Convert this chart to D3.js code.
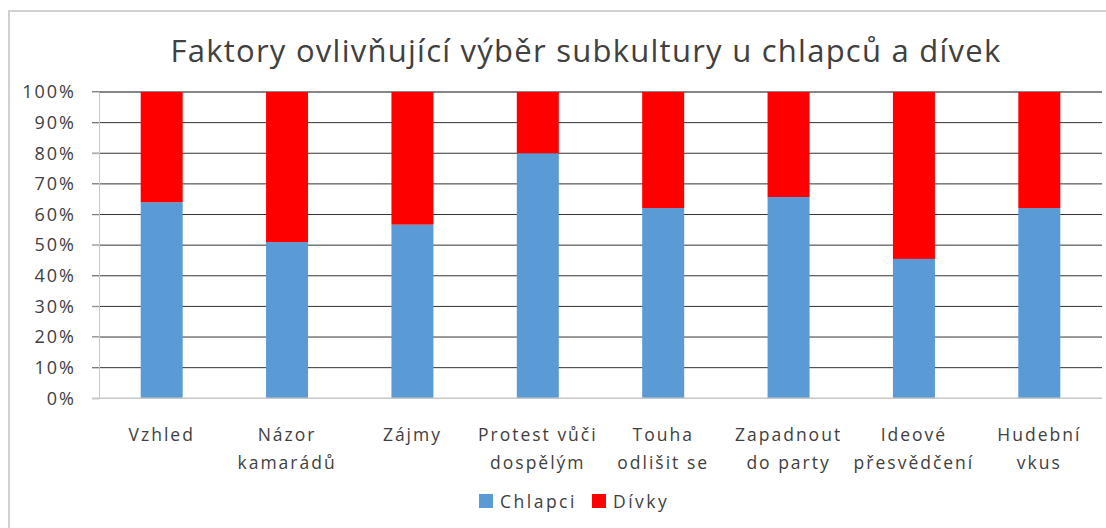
<!DOCTYPE html>
<html>
<head>
<meta charset="utf-8">
<script src="https://cdn.jsdelivr.net/npm/d3@7"></script>
<style>
  body { margin: 0; background: #fff; }
  svg { display: block; font-family: "Open Sans", sans-serif; }
</style>
</head>
<body>
<div class="chart"></div>
<script>
const TITLE = "Faktory ovlivňující výběr subkultury u chlapců a dívek"
const CATEGORIES = [
  ["Vzhled"],
  ["Názor", "kamarádů"],
  ["Zájmy"],
  ["Protest vůči", "dospělým"],
  ["Touha", "odlišit se"],
  ["Zapadnout", "do party"],
  ["Ideové", "přesvědčení"],
  ["Hudební", "vkus"]
]
const SERIES = ["Chlapci", "Dívky"]
const CHLAPCI = [64.0, 51.0, 56.7, 80.0, 62.1, 65.7, 45.5, 62.1]
const DIVKY = CHLAPCI.map(v => 100 - v)
const Y_TICKS = [0, 10, 20, 30, 40, 50, 60, 70, 80, 90, 100]
const COLORS = ["#5b9bd5", "#ff0000"]

const WIDTH = 1106, HEIGHT = 528;
const LEFT = 99, RIGHT = 1102, TOP = 92, BOTTOM = 398.3;

const svg = d3.select(".chart").append("svg").attr("width", WIDTH).attr("height", HEIGHT);

// chart border
svg.append("rect").attr("x", 9).attr("y", 11).attr("width", 1110).attr("height", 530)
  .attr("fill", "none").attr("stroke", "#d0d0d0").attr("stroke-width", 2);

// title
svg.append("text").attr("x", 586).attr("y", 62).attr("text-anchor", "middle")
  .attr("font-size", 31).attr("fill", "#404040").attr("letter-spacing", 1.25)
  .text(TITLE);

const names = CATEGORIES.map(c => c.join(" "));
const x = d3.scaleBand().domain(names).range([LEFT, RIGHT]).paddingInner(0.665).paddingOuter(0.3325);
const y = d3.scaleLinear().domain([0, 100]).range([BOTTOM, TOP]);

// gridlines
svg.append("g").selectAll("line").data(Y_TICKS.filter(t => t > 0)).enter().append("line")
  .attr("x1", LEFT - 7).attr("x2", RIGHT)
  .attr("y1", d => y(d)).attr("y2", d => y(d))
  .attr("stroke", d => d === 100 ? "#868686" : "#333")
  .attr("stroke-width", d => d === 100 ? 2 : 1);

// y axis
const yAxis = svg.append("g").attr("transform", `translate(${LEFT},0)`)
  .call(d3.axisLeft(y).tickValues(Y_TICKS).tickFormat(d => d + "%").tickSize(7).tickPadding(16));
yAxis.select(".domain").attr("stroke", "#c8c8c8");
yAxis.selectAll(".tick line").attr("stroke", "#c8c8c8");
yAxis.selectAll(".tick text").attr("font-size", 18).attr("fill", "#404040")
  .attr("font-family", "Open Sans, sans-serif").attr("letter-spacing", 2);

// stacked bars
const rows = names.map((n, i) => ({ name: n, Chlapci: CHLAPCI[i], "Dívky": DIVKY[i] }));
const stack = d3.stack().keys(SERIES)(rows);
svg.append("g").selectAll("g").data(stack).enter().append("g")
  .attr("fill", (d, i) => COLORS[i])
  .selectAll("rect").data(d => d).enter().append("rect")
  .attr("x", d => x(d.data.name))
  .attr("width", x.bandwidth())
  .attr("y", d => y(d[1]))
  .attr("height", d => y(d[0]) - y(d[1]));

// baseline
svg.append("line").attr("x1", LEFT - 7).attr("x2", RIGHT).attr("y1", BOTTOM).attr("y2", BOTTOM)
  .attr("stroke", "#c8c8c8").attr("stroke-width", 1.5);

// category labels
const cat = svg.append("g").selectAll("text").data(CATEGORIES).enter().append("text")
  .attr("text-anchor", "middle").attr("font-size", 17.5).attr("fill", "#404040").attr("letter-spacing", 2)
  .attr("transform", (d, i) => `translate(${x(names[i]) + x.bandwidth() / 2},441)`);
cat.selectAll("tspan").data(d => d).enter().append("tspan")
  .attr("x", 0).attr("dy", (d, i) => i === 0 ? 0 : 28).text(d => d);

// legend
const legend = svg.append("g").attr("transform", "translate(479,505)");
const items = legend.selectAll("g").data(SERIES).enter().append("g")
  .attr("transform", (d, i) => `translate(${i * 113},0)`);
items.append("rect").attr("x", 0).attr("y", -11).attr("width", 14).attr("height", 14)
  .attr("fill", (d, i) => COLORS[i]);
items.append("text").attr("x", 21).attr("y", 3).attr("font-size", 17.5).attr("fill", "#404040")
  .attr("letter-spacing", 2.5).text(d => d);
</script>
</body>
</html>
